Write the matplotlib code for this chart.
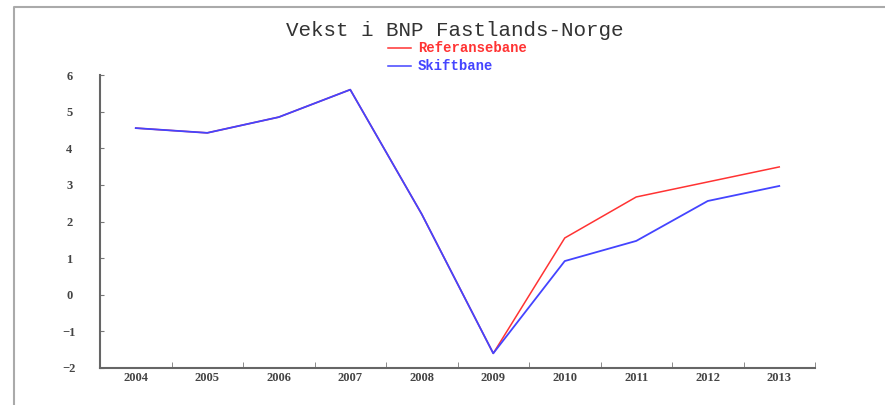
import matplotlib
matplotlib.use("Agg")
import matplotlib.pyplot as plt
from matplotlib.lines import Line2D

# Data (growth in %, Mainland-Norway GDP)
years = ["2004", "2005", "2006", "2007", "2008", "2009", "2010", "2011", "2012", "2013"]
referansebane = [4.55, 4.42, 4.85, 5.6, 2.2, -1.6, 1.55, 2.67, 3.08, 3.49]
skiftbane = [4.55, 4.42, 4.85, 5.6, 2.2, -1.6, 0.92, 1.47, 2.56, 2.97]
yticks = [-2, -1, 0, 1, 2, 3, 4, 5, 6]

RED, BLUE = "#ff3333", "#4444ff"

W, H = 885, 405
fig = plt.figure(figsize=(W / 100, H / 100), dpi=100)
ax = fig.add_axes([100 / W, 1 - 368 / H, 715 / W, 293 / H])

x = list(range(len(years)))
ax.plot(x, referansebane, color=RED, lw=1.1, label="Referansebane")
ax.plot(x, skiftbane, color=BLUE, lw=1.3, label="Skiftbane")

ax.set_xlim(-0.5, len(years) - 0.5)
ax.set_ylim(-2, 6)

# category labels centred, ticks on boundaries
ax.set_xticks(x)
ax.set_xticklabels(years)
ax.set_xticks([i + 0.5 for i in range(-1, len(years))], minor=True)
ax.tick_params(axis="x", which="major", length=0, pad=3)
ax.tick_params(axis="x", which="minor", direction="in", length=4, color="#777777")
ax.set_yticks(yticks)
ax.tick_params(axis="y", direction="in", length=3, color="#777777", pad=22)

for lab in ax.get_xticklabels() + ax.get_yticklabels():
    lab.set_fontfamily("Liberation Serif")
    lab.set_fontsize(9)
    lab.set_fontweight("bold")
    lab.set_color("#444444")
for lab in ax.get_yticklabels():
    lab.set_horizontalalignment("center")

for side in ("top", "right"):
    ax.spines[side].set_visible(False)
for side in ("left", "bottom"):
    ax.spines[side].set_color("#666666")
    ax.spines[side].set_linewidth(1.5)

fig.text(455 / W, 1 - 30 / H, "Vekst i BNP Fastlands-Norge", ha="center", va="center",
         fontfamily="Liberation Mono", fontsize=15, color="#333333")

# legend: short line + coloured label
for i, (name, col) in enumerate([("Referansebane", RED), ("Skiftbane", BLUE)]):
    yy = 1 - (48 + 18 * i) / H
    fig.add_artist(Line2D([388 / W, 411 / W], [yy, yy], color=col, lw=1.1))
    fig.text(418 / W, yy, name, ha="left", va="center", fontfamily="Liberation Mono",
             fontsize=10, fontweight="bold", color=col)

# outer frame (top and left edges visible)
fig.add_artist(Line2D([14 / W, 14 / W, 1.0], [0.0, 1 - 7 / H, 1 - 7 / H],
                      color="#aaaaaa", lw=1.5))

fig.savefig("out.png", dpi=100)
